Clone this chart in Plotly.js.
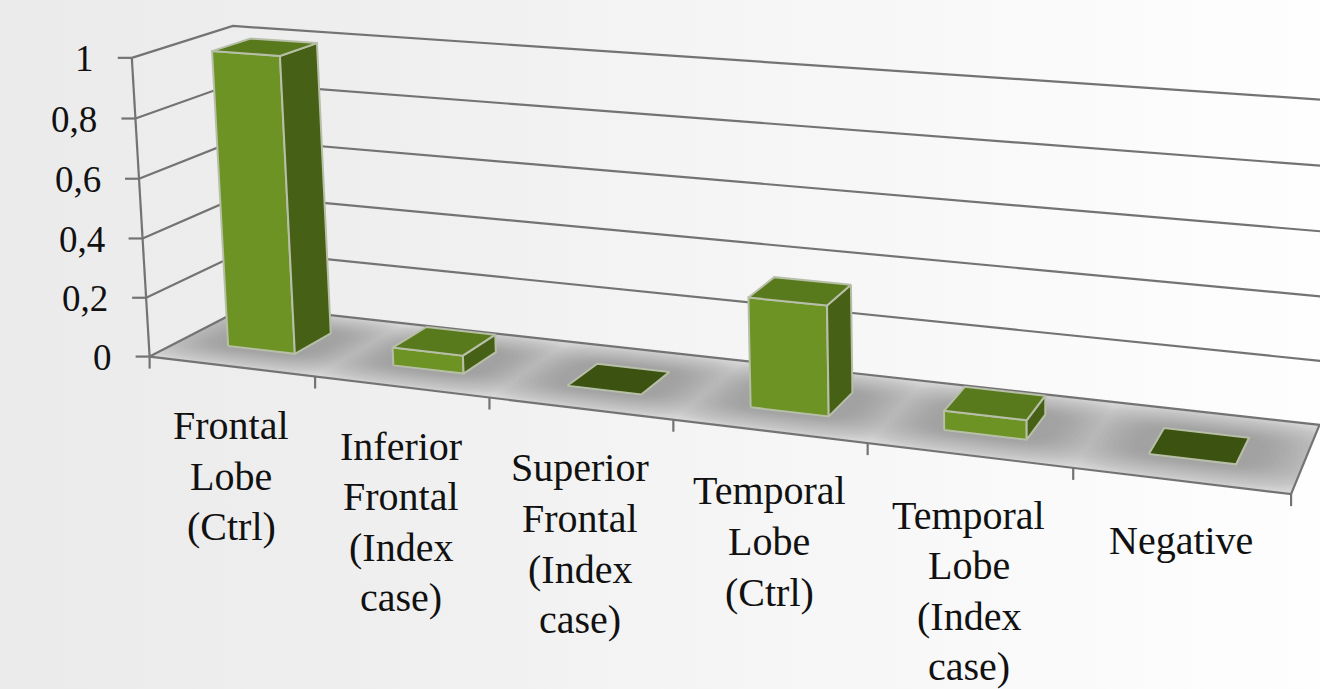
<!DOCTYPE html>
<html><head><meta charset="utf-8">
<script src="https://cdn.plot.ly/plotly-3.0.1.min.js"></script>
<style>html,body{margin:0;padding:0;width:1320px;height:689px;overflow:hidden;background:linear-gradient(90deg,#ebebeb 0%,#eeeeee 25%,#f4f4f4 50%,#f9f9f9 75%,#fefefe 100%);}</style>
</head><body><div id="chart" style="width:1320px;height:689px"></div>
<script>
const categories = ["Frontal<br>Lobe<br>(Ctrl)","Inferior<br>Frontal<br>(Index<br>case)","Superior<br>Frontal<br>(Index<br>case)","Temporal<br>Lobe<br>(Ctrl)","Temporal<br>Lobe<br>(Index<br>case)","Negative"];
const values = [1, 0.06, 0, 0.35, 0.06, 0];
const axisValues = [0, 0.2, 0.4, 0.6, 0.8, 1];
const axisLabels = ["0","0,2","0,4","0,6","0,8","1"];

// perspective camera calibrated from frame corners: [u,v,w] -> [px,py]
const calib = [
 [[0,0,0],[150,357]],[[6,0,0],[1291,494]],[[0,0,1],[131.7,57.7]],[[0,1,1],[233,26]],
 [[0,1,0],[247.6,305.7]],[[6,1,0],[1319.5,425]],[[6,1,1],[1325,100]],
 [[1,0,0],[315,377]],[[2,0,0],[489,397]],[[4,0,0],[868,443]]
];
function solveCam(){
  const A=[],b=[];
  calib.forEach(([[u,v,w],[x,y]])=>{x/=1000;y/=1000;
    A.push([u,v,w,1,0,0,0,0,-x*u,-x*v,-x*w]);b.push(x);
    A.push([0,0,0,0,u,v,w,1,-y*u,-y*v,-y*w]);b.push(y);});
  const n=11,M=[];
  for(let i=0;i<n;i++){const r=new Array(n+1).fill(0);
    for(let k=0;k<A.length;k++){for(let j=0;j<n;j++)r[j]+=A[k][i]*A[k][j];r[n]+=A[k][i]*b[k];}
    M.push(r);}
  for(let c=0;c<n;c++){let p=c;for(let r=c+1;r<n;r++)if(Math.abs(M[r][c])>Math.abs(M[p][c]))p=r;
    [M[c],M[p]]=[M[p],M[c]];
    for(let r=0;r<n;r++)if(r!==c){const f=M[r][c]/M[c][c];for(let j=c;j<=n;j++)M[r][j]-=f*M[c][j];}}
  return M.map((r,i)=>r[n]/r[i]);
}
const P=solveCam();
function proj(u,v,w){const d=P[8]*u+P[9]*v+P[10]*w+1;
  return [1000*(P[0]*u+P[1]*v+P[2]*w+P[3])/d,1000*(P[4]*u+P[5]*v+P[6]*w+P[7])/d];}

const traces=[];
function line(pts,color,width){traces.push({type:'scatter',mode:'lines',x:pts.map(p=>p[0]),y:pts.map(p=>p[1]),
  line:{color,width},hoverinfo:'skip',showlegend:false});}
function poly(pts,fill,edge,ew){const c=pts.concat([pts[0]]);traces.push({type:'scatter',mode:edge?'lines':'none',x:c.map(p=>p[0]),y:c.map(p=>p[1]),
  fill:'toself',fillcolor:fill,line:edge?{color:edge,width:ew||2}:{width:0},hoverinfo:'skip',showlegend:false});}
function rect(u0,u1,v0,v1,w){return [proj(u0,v0,w),proj(u1,v0,w),proj(u1,v1,w),proj(u0,v1,w)];}

const gridColor='#737373';
// wall gridlines
axisValues.forEach(a=>{ if(a>0) line([proj(0,0,a),proj(0,1,a),proj(6,1,a)],gridColor,2.2); });
// floor
poly(rect(0,6,0,1,0),'#e2e2e2');
// soft floor glow around each column: stacked rounded patches
const N=20, SEG=32;
for(let k=0;k<N;k++){
  const t=k/(N-1), hu=0.78-0.48*t, hv=0.56-0.34*t, xs=[],ys=[];
  categories.forEach((c,i)=>{
    for(let s=0;s<=SEG;s++){
      const a=2*Math.PI*s/SEG, ca=Math.cos(a), sa=Math.sin(a);
      const u=i+.5+hu*Math.sign(ca)*Math.pow(Math.abs(ca),0.6);
      const v=.5+hv*Math.sign(sa)*Math.pow(Math.abs(sa),0.6);
      const p=proj(Math.min(6,Math.max(0,u)),Math.min(1,Math.max(0,v)),0);
      xs.push(p[0]);ys.push(p[1]);
    }
    xs.push(null);ys.push(null);
  });
  traces.push({type:'scatter',mode:'none',x:xs,y:ys,fill:'toself',fillcolor:'rgba(110,110,110,0.036)',hoverinfo:'skip',showlegend:false});
}
// floor frame & axes
line([proj(0,0,0),proj(0,1,0),proj(6,1,0),proj(6,0,0),proj(0,0,0)],gridColor,2.2);
line([proj(0,0,0),proj(0,0,1)],gridColor,2.2);
axisValues.forEach(a=>{const p=proj(0,0,a);line([[p[0]-14,p[1]],p],gridColor,2.2);});
for(let i=0;i<=6;i++){const p=proj(i,0,0);line([p,[p[0],p[1]+12]],gridColor,2.2);}

// columns
const bw=0.205,bv0=0.305,bv1=0.695,edge='#b7bfa8';
values.forEach((val,i)=>{
  const u0=i+.5-bw,u1=i+.5+bw;
  if(val>0){
    poly([proj(u0,bv0,0),proj(u1,bv0,0),proj(u1,bv0,val),proj(u0,bv0,val)],'#6c9323',edge);
    poly([proj(u1,bv0,0),proj(u1,bv1,0),proj(u1,bv1,val),proj(u1,bv0,val)],'#466115',edge);
    poly(rect(u0,u1,bv0,bv1,val),'#587a1c',edge);
  } else {
    poly(rect(u0,u1,bv0,bv1,0),'#3c5210',edge);
  }
});

const font={family:'"Liberation Serif",serif',size:40,color:'#111'};
const yfont={family:'"Liberation Serif",serif',size:37,color:'#111'};
const ann=[];
axisValues.forEach((a,i)=>{const p=proj(0,0,a);
  ann.push({x:p[0]-36,y:p[1]+1,xref:'x',yref:'y',text:axisLabels[i],showarrow:false,xanchor:'right',yanchor:'middle',font:yfont});});
categories.forEach((c,i)=>{const p=proj(i+.5,0,0);
  c.split('<br>').forEach((t,j)=>{
    ann.push({x:p[0],y:p[1]+59+0.2*i+50.6*j,xref:'x',yref:'y',text:t,showarrow:false,xanchor:'center',yanchor:'middle',font});});});

Plotly.newPlot('chart',traces,{
  width:1320,height:689,margin:{l:0,r:0,t:0,b:0},showlegend:false,
  paper_bgcolor:'rgba(0,0,0,0)',plot_bgcolor:'rgba(0,0,0,0)',
  xaxis:{range:[0,1320],visible:false,fixedrange:true},
  yaxis:{range:[689,0],visible:false,fixedrange:true},
  annotations:ann
},{displayModeBar:false,staticPlot:true});
</script></body></html>
